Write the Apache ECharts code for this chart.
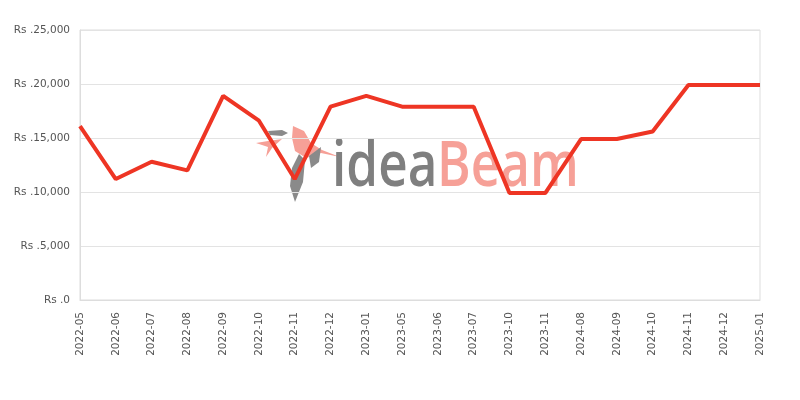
<!DOCTYPE html>
<html><head><meta charset="utf-8">
<script src="https://cdn.jsdelivr.net/npm/echarts@6/dist/echarts.min.js"></script>
<style>html,body{margin:0;padding:0;background:#fff}#c{width:800px;height:400px}</style>
</head><body><div id="c"></div>
<script>
const categories = ['2022-05','2022-06','2022-07','2022-08','2022-09','2022-10','2022-11','2022-12','2023-01','2023-05','2023-06','2023-07','2023-10','2023-11','2024-08','2024-09','2024-10','2024-11','2024-12','2025-01'];
const prices = [16100,11200,12800,12000,18900,16600,11200,17900,18900,17900,17900,17900,9900,9900,14900,14900,15600,19900,19900,19900];
const yTicks = [0,5000,10000,15000,20000,25000];

const chart = echarts.init(document.getElementById('c'));
const wmFont = '600 64px "Open Sans", "Noto Sans"';
chart.setOption({
  animation:false,
  grid:{left:80,right:40,top:30,bottom:100,show:true,borderColor:'#dddddd',borderWidth:1,containLabel:false},
  graphic:[
    {type:'polygon',z:0,shape:{points:[[293,126],[304,131],[311,143],[322,150],[340,157],[321,153],[306,158],[295,151],[292,138]]},style:{fill:'#f6a097'}},
    {type:'polygon',z:0,shape:{points:[[256,143],[268,141],[282,139],[272,148],[266,157],[268,147]]},style:{fill:'#f6a097'}},
    {type:'polygon',z:0,shape:{points:[[268,131],[282,130],[288,133],[282,136],[270,135]]},style:{fill:'#8a8a8a'}},
    {type:'polygon',z:0,shape:{points:[[299,154],[305,160],[303,182],[295,202],[290,186],[292,168]]},style:{fill:'#8a8a8a'}},
    {type:'polygon',z:0,shape:{points:[[309,156],[321,147],[319,162],[311,168]]},style:{fill:'#8a8a8a'}},
    {type:'text',x:332,y:200,z:0,scaleX:0.8,originX:0,originY:0,style:{text:'idea',fill:'#7f7f7f',font:wmFont,verticalAlign:'bottom'}},
    {type:'text',x:437,y:200,z:0,scaleX:0.8,originX:0,originY:0,style:{text:'Beam',fill:'#f6a097',font:wmFont,verticalAlign:'bottom'}}
  ],
  xAxis:{type:'category',data:categories,boundaryGap:false,
    axisLine:{show:true,lineStyle:{color:'#dddddd'}},axisTick:{show:false},
    axisLabel:{rotate:90,interval:0,color:'#555',fontSize:10.5,fontFamily:'DejaVu Sans',margin:12},
    splitLine:{show:false}},
  yAxis:{type:'value',min:yTicks[0],max:yTicks[yTicks.length-1],interval:5000,
    axisLine:{show:true,lineStyle:{color:'#dddddd'}},axisTick:{show:false},
    axisLabel:{color:'#555',fontSize:10.5,fontFamily:'DejaVu Sans',margin:10,
      formatter:v=>'Rs .'+v.toLocaleString('en-US')},
    splitLine:{lineStyle:{color:'#e3e3e3'}}},
  series:[{type:'line',data:prices,symbol:'none',z:5,lineStyle:{color:'#ee3524',width:4}}]
});
</script></body></html>
